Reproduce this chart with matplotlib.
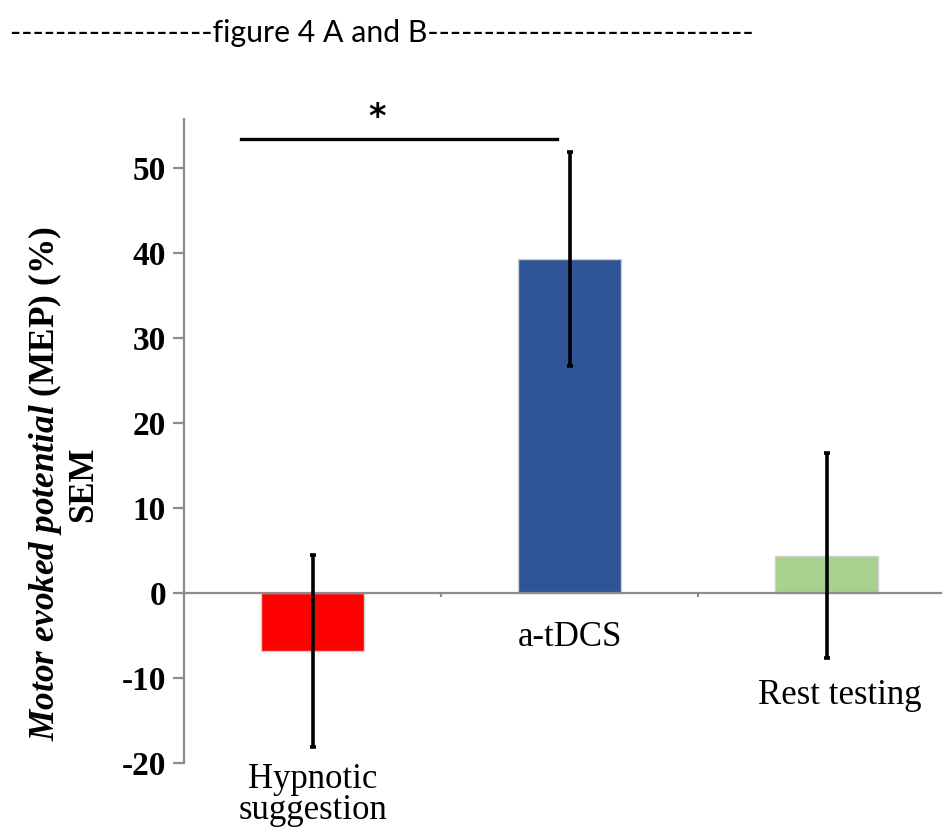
import matplotlib
matplotlib.use("Agg")
import matplotlib.pyplot as plt

categories = ["Hypnotic\nsuggestion", "a-tDCS", "Rest testing"]
values = [-6.8, 39.3, 4.4]
errors = [11.3, 12.6, 12.1]
colors = ["#FF0000", "#2F5597", "#A9D18E"]
yticks = [-20, -10, 0, 10, 20, 30, 40, 50]
label_pos = [(0.0, -20.0, "top"), (1.0, -6.2, "baseline"), (2.05, -13.1, "baseline")]
sig_x = [-0.278, 0.951]
sig_y = 53.5

plt.rcParams['mathtext.fontset'] = 'custom'
plt.rcParams['mathtext.it'] = 'Liberation Serif:italic:bold'
plt.rcParams['mathtext.rm'] = 'Liberation Serif:bold'
plt.rcParams['mathtext.bf'] = 'Liberation Serif:bold'

fig = plt.figure(figsize=(9.45, 8.34), dpi=100)
ax = fig.add_axes([184/945, 1-763/834, (941-184)/945, (763-119)/834])

x = list(range(len(categories)))
ax.bar(x, values, width=0.4, color=colors, edgecolor="#D0D0D0", linewidth=1, zorder=2)
ax.errorbar(x, values, yerr=errors, fmt="none", ecolor="black", elinewidth=2.6,
            capsize=2.5, capthick=2.6, zorder=3)

ax.set_xlim(-0.5, 2.445)
ax.set_ylim(-20, 55.8)

grey = "#8C8C8C"
for s in ["top", "right"]:
    ax.spines[s].set_visible(False)
ax.spines["left"].set_color(grey)
ax.spines["left"].set_linewidth(1.6)
ax.spines["bottom"].set_position(("data", 0))
ax.spines["bottom"].set_color(grey)
ax.spines["bottom"].set_linewidth(1.6)
ax.spines["bottom"].set_zorder(2.5)

ax.set_yticks(yticks)
ax.set_yticklabels([str(t) for t in yticks], fontfamily="Liberation Serif",
                   fontweight="bold", fontsize=24)
ax.tick_params(axis="y", direction="out", length=8, width=1.6, color=grey, pad=5)
ax.set_xticks([0.5, 1.5])
ax.set_xticklabels([])
ax.tick_params(axis="x", direction="out", length=3, width=1.6, color=grey)

for (cx, cy, va), name in zip(label_pos, categories):
    ax.text(cx, cy, name, ha="center", va=va, fontfamily="Liberation Serif",
            fontsize=25, linespacing=0.92)

ax.plot(sig_x, [sig_y, sig_y], color="black", lw=2.4, clip_on=False)
ax.text(0.25, 54.0, "*", ha="center", va="bottom", fontfamily="DejaVu Sans",
        fontweight="bold", fontsize=24, clip_on=False)

fig.text(45/945, 1-484/834, r"$Motor\ evoked\ potential$ (MEP) (%)", rotation=90,
         ha="center", va="center", fontfamily="Liberation Serif", fontweight="bold",
         fontsize=25.4)
fig.text(84/945, 1-484/834, "SEM", rotation=90, ha="center", va="center",
         fontfamily="Liberation Serif", fontweight="bold", fontsize=25)

title = "-" * 18 + "figure 4 A and B" + "-" * 29
fig.text(10/945, 1-33/834, title, ha="left", va="center", fontfamily="Lato",
         fontsize=21.8)

fig.savefig("out.png", dpi=100)
